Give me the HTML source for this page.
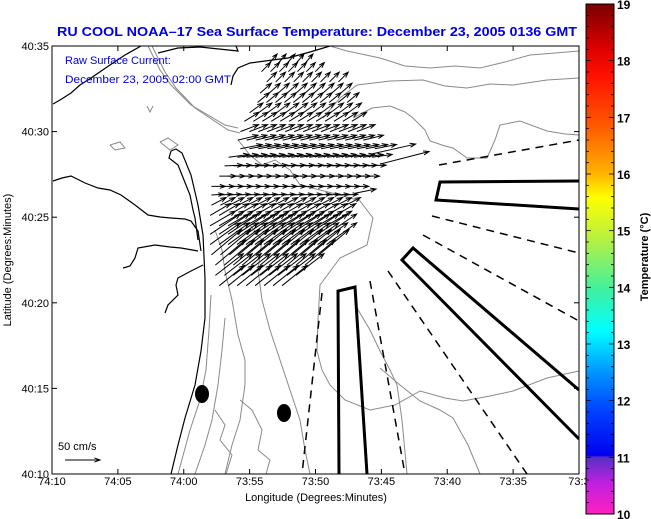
<!DOCTYPE html>
<html><head><meta charset="utf-8"><style>
html,body{margin:0;padding:0;background:#fff;}
svg{display:block;font-family:"Liberation Sans",Arial,sans-serif;}
</style></head><body>
<svg id="chart" width="651" height="519" viewBox="0 0 651 519" xmlns="http://www.w3.org/2000/svg">
<defs>
<linearGradient id="cmap" x1="0" y1="0" x2="0" y2="1">
<stop offset="0" stop-color="#780000"/>
<stop offset="0.09" stop-color="#e00000"/>
<stop offset="0.14" stop-color="#ff1000"/>
<stop offset="0.24" stop-color="#ff5a00"/>
<stop offset="0.33" stop-color="#ffb000"/>
<stop offset="0.38" stop-color="#ffff00"/>
<stop offset="0.46" stop-color="#b8f040"/>
<stop offset="0.56" stop-color="#40f0a0"/>
<stop offset="0.64" stop-color="#00ffff"/>
<stop offset="0.72" stop-color="#0098ff"/>
<stop offset="0.80" stop-color="#0040ff"/>
<stop offset="0.885" stop-color="#0000f0"/>
<stop offset="0.889" stop-color="#5830c8"/>
<stop offset="0.94" stop-color="#c020e0"/>
<stop offset="1" stop-color="#ff20c0"/>
</linearGradient>
<clipPath id="plotclip"><rect x="52" y="46" width="527" height="428"/></clipPath>
</defs>
<rect x="0" y="0" width="651" height="519" fill="#fff"/>
<text x="317" y="36" text-anchor="middle" font-size="13" font-weight="bold" fill="#0000e0" textLength="520" lengthAdjust="spacingAndGlyphs">RU COOL  NOAA–17  Sea Surface Temperature:  December 23, 2005 0136 GMT</text>
<g id="map" clip-path="url(#plotclip)"></g>
<rect x="52" y="46" width="527" height="428" fill="none" stroke="#000" stroke-width="1"/>
<g id="axes"></g>
<text x="65" y="64" font-size="11" fill="#0000e0">Raw Surface Current:</text>
<text x="65" y="83" font-size="11" fill="#0000e0" textLength="166" lengthAdjust="spacingAndGlyphs">December 23, 2005 02:00 GMT</text>
<text x="58" y="450" font-size="11" fill="#000">50 cm/s</text>
<text x="316" y="501" text-anchor="middle" font-size="11" fill="#000">Longitude (Degrees:Minutes)</text>
<text transform="translate(11,260) rotate(-90)" text-anchor="middle" font-size="11" fill="#000">Latitude (Degrees:Minutes)</text>
<rect x="586" y="4" width="28" height="510" fill="url(#cmap)" stroke="#000" stroke-width="1"/>
<g id="cbar"></g>
<text transform="translate(648,257) rotate(-90)" text-anchor="middle" font-size="11" font-weight="bold" fill="#000">Temperature (°C)</text>
</svg>
<script>
// axis data
const xTickLabels = ["74:10","74:05","74:00","73:55","73:50","73:45","73:40","73:35","73:3"];
const xTickMinutes = [0,5,10,15,20,25,30,35,40];
const yTickLabels = ["40:10","40:15","40:20","40:25","40:30","40:35"];
const yTickMinutes = [0,5,10,15,20,25];
const cbarValues = [10,11,12,13,14,15,16,17,18,19];
// current vector rows: latitude (min above 40:10), lon start/end (min east of 74:10), u, v (cm/s)
const rowLat  = [24.0,23.5,22.9,22.25,21.7,21.1,20.6,20.0,19.5,19.0,18.5,18.0,17.4,16.8,16.3,15.7,15.1,14.5,14.0,13.4,12.8,12.2,11.6,11.0];
const rowLon0 = [16.5,15.9,16.3,15.8,15.6,15.0,14.6,14.3,14.1,14.3,13.4,13.1,12.7,12.1,12.1,12.1,12.0,12.0,12.0,12.0,12.1,12.4,12.4,12.7];
const rowLon1 = [19.3,20.3,22.4,22.2,22.6,23.0,23.4,23.7,24.1,24.5,24.9,24.5,24.1,23.4,22.6,22.6,21.9,21.5,21.1,21.1,20.3,19.6,18.8,18.1];
const rowU    = [11,13,14,16,17,19,21,26,29,31,29,26,24,20,17,21,29,36,43,43,43,43,40,36];
const rowV    = [13,13,14,14,14,14,13,10,7,6,4,1,0,0,1,11,17,21,29,31,36,36,31,29];
const extraLat = [18.7,18.1,16.4];
const extraLon = [24.3,24.9,23.0];
const extraU   = [62,70,30];
const extraV   = [14,18,6];
const scaleU = [50];

const NS="http://www.w3.org/2000/svg";
const X0=52,X1=579,Y0=46,Y1=474;
const xs = m => X0 + m*(X1-X0)/40;
const ys = m => Y1 - m*(Y1-Y0)/25;
const PXCM = 0.7;
function el(tag, attrs, parent){const e=document.createElementNS(NS,tag);for(const k in attrs)e.setAttribute(k,attrs[k]);parent.appendChild(e);return e;}
const axes=document.getElementById('axes');
const map=document.getElementById('map');
const cbar=document.getElementById('cbar');

xTickMinutes.forEach((m,i)=>{
  const x=xs(m);
  const t=el('line',{x1:x,y1:Y1,x2:x,y2:Y1-5,stroke:'#000'},axes);
  
  
  const t2=el('line',{x1:x,y1:Y0,x2:x,y2:Y0+5,stroke:'#000'},axes);
  
  
  const l=el('text',{x:x,y:485,'text-anchor':'middle','font-size':'11',fill:'#000'},axes);
  l.textContent=xTickLabels[i];
  
  
});
yTickMinutes.forEach((m,i)=>{
  const y=ys(m);
  const t=el('line',{x1:X0,y1:y,x2:X0+5,y2:y,stroke:'#000'},axes);
  
  
  const t2=el('line',{x1:X1,y1:y,x2:X1-5,y2:y,stroke:'#000'},axes);
  
  
  const l=el('text',{x:49,y:y+4,'text-anchor':'end','font-size':'11',fill:'#000'},axes);
  l.textContent=yTickLabels[i];
  
  
});
// colorbar
const cy = v => 514 - (v-10)*510/9;
cbarValues.forEach(v=>{
  const l=el('text',{x:617,y:cy(v)+5,'font-size':'12','font-weight':'bold',fill:'#000'},cbar);
  l.textContent=String(v);
  
  
});
for(let k=0;k<=45;k++){
  const y=4+k*510/45;
  const len=(k%5===0)?5:3;
  const a=el('line',{x1:586,y1:y,x2:586+len,y2:y,stroke:'#000','stroke-width':'0.8'},cbar);
  
  
  const b=el('line',{x1:614,y1:y,x2:614-len,y2:y,stroke:'#000','stroke-width':'0.8'},cbar);
  
  
}

// map geometry (pixel polylines of coastline/isobaths)
function poly(pts,attrs,name){
  const p=el('polyline',Object.assign({points:pts,fill:'none'},attrs),map);
  
  
}
const G={stroke:'#8a8a8a','stroke-width':'1'};
const B={stroke:'#000','stroke-width':'1.2'};
poly("148,46 160,70 171,85 191,105 225,125 238,128",G,'isobath');
poly("152,46 165,72 176,88 195,108 228,130 240,133",G,'isobath');
poly("323,118 340,98 357,85 390,81 423,80 445,86 467,88 490,84 513,85 547,80 579,78",G,'isobath');
poly("330,46 347,51 380,58 405,66 430,68 455,66 480,68 505,62 530,55 555,53 579,51",G,'isobath');
poly("353,118 372,108 390,106 405,112 413,118 425,130 430,141 445,146 453,148 467,158 487,158 495,140 500,125 520,121 547,131 565,134 579,135",G,'isobath');
poly("238,140 250,155 262,165 275,160 290,170 300,185 320,190 340,195 360,201 373,218 367,245 340,258 320,285 318,320 317,351 322,370 330,385 345,400 370,410 395,405 420,391 445,398 463,401 490,396 513,391 547,378 579,371",G,'isobath');
poly("357,308 370,330 380,351 390,370 397,385 402,420 407,474",G,'isobath');
poly("380,368 400,385 420,401 440,410 453,418 468,445 480,474",G,'isobath');
poly("211,295 209,330 206,370 200,400 190,430 178,474",G,'isobath');
poly("225,318 222,350 218,385 212,420 205,445 195,474",G,'isobath');
poly("215,230 222,250 225,271 232,300 238,335 245,360 245,385 240,420 232,445 225,474",G,'isobath');
poly("250,225 262,240 258,270 262,300 270,330 280,360 290,390 300,420 305,450 310,474",G,'isobath');
poly("240,400 252,410 262,430 258,450 270,460 266,474",G,'isobath-patch');
poly("215,410 225,425 220,440 232,455 226,474",G,'isobath-patch');
poly("160,142 170,150 178,145 168,138 160,142",G,'isobath-patch');
poly("110,145 120,142 125,148 115,150 110,145",G,'isobath-patch');
poly("147,106 150,112 153,106",G,'isobath-patch');
// coastline
poly("53,104 60,100 71,93 80,85 91,78 110,65 125,55 141,46",B,'coastline');
poly("158,53 170,50 178,48 200,47 238,51 236,46",B,'coastline');
poly("231,85 233,76 238,68 250,63 265,61 288,58 310,52 330,46",B,'coastline');
poly("53,181 62,178 71,176 85,183 98,188 110,190 121,195 135,205 148,215 160,217 171,218 185,219 191,221 198,231 201,251",B,'coastline');
poly("171,151 176,149 182,153 191,175 198,205 203,235 205,278 205,318 201,351 195,385 185,418 178,445 171,474",B,'coastline');
poly("171,151 169,158 178,165 184,180 190,195 193,210 195,218 198,240",B,'coastline');
poly("123,268 130,266 135,258 138,248 155,245 170,247 181,248 198,251",B,'coastline');
poly("165,313 168,305 178,295 176,285 178,278 191,271 203,265",B,'coastline');
// thick polygons
const TH={stroke:'#000','stroke-width':'3','stroke-linejoin':'miter'};
poly("339,474 338,291 355,287 367,474",TH,'survey-box-south');
poly("579,181 440,182 436,200 579,209",TH,'survey-box-east');
poly("579,390 413,248 402,260 579,439",TH,'survey-box-southeast');
// dashed lines
const D={stroke:'#000','stroke-width':'1.5','stroke-dasharray':'8,6'};
poly("439,165 579,140",D,'dashed-line');
poly("432,216 579,253",D,'dashed-line');
poly("423,235 579,321",D,'dashed-line');
poly("388,271 527,474",D,'dashed-line');
poly("370,281 405,474",D,'dashed-line');
poly("322,293 302,474",D,'dashed-line');
// moorings
const e1=el('ellipse',{cx:202,cy:394,rx:7,ry:9,fill:'#000'},map);


const e2=el('ellipse',{cx:284,cy:413,rx:7,ry:9,fill:'#000'},map);



// arrows
function arrow(x,y,u,v,parent){
  const dx=u*PXCM, dy=-v*PXCM;
  const x2=x+dx, y2=y+dy;
  const L=Math.hypot(dx,dy)||1;
  const ux=dx/L, uy=dy/L, h=Math.min(6,L*0.45);
  const ax=x2-h*(ux*0.94-uy*0.34), ay=y2-h*(uy*0.94+ux*0.34);
  const bx=x2-h*(ux*0.94+uy*0.34), by=y2-h*(uy*0.94-ux*0.34);
  const p=el('path',{d:`M${x},${y}L${x2},${y2}M${ax},${ay}L${x2},${y2}L${bx},${by}`,stroke:'#000','stroke-width':'1',fill:'none'},parent);
  
  
}
rowLat.forEach((lat,i)=>{
  for(let lon=rowLon0[i]; lon<=rowLon1[i]+0.01; lon+=0.68){
    arrow(xs(lon),ys(lat),rowU[i],rowV[i],map);
  }
});
extraLat.forEach((lat,i)=>arrow(xs(extraLon[i]),ys(extraLat[i]),extraU[i],extraV[i],map));
// scale arrow
arrow(65,460,scaleU[0],0,document.getElementById('chart'));
</script>
</body></html>
